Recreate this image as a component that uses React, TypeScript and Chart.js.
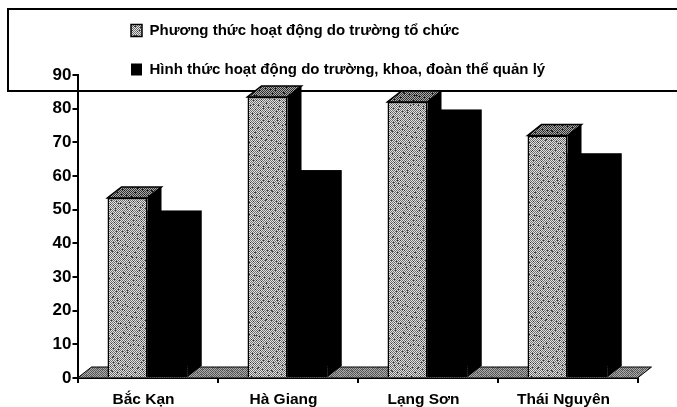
import React, { useEffect, useRef } from "react";
import { Chart, registerables } from "chart.js";

Chart.register(...registerables);

const categories = ["Bắc Kạn", "Hà Giang", "Lạng Sơn", "Thái Nguyên"];
const seriesNames = [
  "Phương thức hoạt động do trường tổ chức",
  "Hình thức hoạt động do trường, khoa, đoàn thể quản lý",
];
const truongToChuc = [53.5, 83.5, 82, 72];
const truongKhoaDoanThe = [46.5, 58.5, 76.5, 63.5];

const FONT = "'Liberation Sans', Arial, sans-serif";
const DX = 14;
const DY = 11;

function makePattern(dark: string, light: string, speck: string) {
  const c = document.createElement("canvas");
  c.width = 40;
  c.height = 60;
  const g = c.getContext("2d")!;
  for (let y = 0; y < 60; y++) {
    for (let x = 0; x < 40; x++) {
      g.fillStyle = (x + y) % 2 === 0 ? dark : light;
      if ((x * 7 + y * 11) % 23 === 0 || (x * 5 + y * 3) % 37 === 0) g.fillStyle = speck;
      g.fillRect(x, y, 1, 1);
    }
  }
  return g.createPattern(c, "repeat")!;
}

const depthPlugin = {
  id: "depth",
  beforeDatasetsDraw(chart: any) {
    const { ctx, chartArea: a } = chart;
    ctx.save();
    ctx.strokeStyle = "#000";
    ctx.lineWidth = 2;
    ctx.beginPath();
    ctx.moveTo(677, 9);
    ctx.lineTo(8, 9);
    ctx.lineTo(8, 91);
    ctx.lineTo(677, 91);
    ctx.stroke();
    ctx.fillStyle = makePattern("#555", "#aaa", "#777");
    ctx.strokeStyle = "#000";
    ctx.lineWidth = 1;
    ctx.beginPath();
    ctx.moveTo(a.left, a.bottom);
    ctx.lineTo(a.left + DX, a.bottom - DY);
    ctx.lineTo(a.right + DX, a.bottom - DY);
    ctx.lineTo(a.right, a.bottom);
    ctx.closePath();
    ctx.fill();
    ctx.stroke();
    ctx.restore();
  },
  beforeDatasetDraw(chart: any, args: any) {
    const { ctx } = chart;
    const meta = chart.getDatasetMeta(args.index);
    ctx.save();
    meta.data.forEach((bar: any) => {
      const l = bar.x - bar.width / 2;
      const r = bar.x + bar.width / 2;
      const t = bar.y;
      const b = bar.base;
      ctx.fillStyle = "#000";
      ctx.beginPath();
      ctx.moveTo(r, t);
      ctx.lineTo(r + DX, t - DY);
      ctx.lineTo(r + DX, b - DY);
      ctx.lineTo(r, b);
      ctx.closePath();
      ctx.fill();
      if (args.index === 1) {
        ctx.fillRect(l, t - DY, r - l + DX, b - t);
        return;
      }
      ctx.fillStyle = makePattern("#333", "#aaa", "#111");
      ctx.strokeStyle = "#000";
      ctx.lineWidth = 1.5;
      ctx.beginPath();
      ctx.moveTo(l, t);
      ctx.lineTo(l + DX, t - DY);
      ctx.lineTo(r + DX, t - DY);
      ctx.lineTo(r, t);
      ctx.closePath();
      ctx.fill();
      ctx.stroke();
    });
    ctx.restore();
  },
};

const legendPlugin = {
  id: "legendPlace",
  afterLayout(chart: any) {
    const lg = chart.legend;
    const w = lg.width;
    const h = lg.height;
    lg.left = 107;
    lg.top = -1;
    lg.right = lg.left + w;
    lg.bottom = lg.top + h;
    lg.adjustHitBoxes();
  },
};

export default function App() {
  const ref = useRef<HTMLCanvasElement>(null);
  useEffect(() => {
    const gray = makePattern("#6e6e6e", "#e2e2e2", "#333");
    const chart = new Chart(ref.current!, {
      type: "bar",
      data: {
        labels: categories,
        datasets: [
          { label: seriesNames[0], data: truongToChuc, backgroundColor: gray, borderColor: "#000", borderWidth: 1.5 },
          { label: seriesNames[1], data: truongKhoaDoanThe, backgroundColor: "#000", borderColor: "#000", borderWidth: 0 },
        ],
      },
      options: {
        animation: false,
        responsive: false,
        layout: { padding: { top: 75, right: 39.5, left: 0, bottom: 0 } },
        datasets: { bar: { categoryPercentage: 80 / 140, barPercentage: 1 } },
        plugins: {
          tooltip: { enabled: false },
          legend: {
            position: "chartArea",
            align: "start",
            labels: {
              boxWidth: 11,
              boxHeight: 12,
              padding: 24,
              color: "#000",
              font: { family: FONT, size: 15, weight: "bold" },
            },
          },
        },
        scales: {
          x: {
            afterFit: (s: any) => { s.height = 29; },
            grid: { drawOnChartArea: false, tickLength: 5, color: "#000", lineWidth: 2, offset: true },
            border: { color: "#000", width: 2 },
            ticks: { color: "#000", padding: 7, labelOffset: -4, maxRotation: 0, font: { family: FONT, size: 15.5, weight: "bold" } },
          },
          y: {
            min: 0,
            max: 90,
            afterFit: (s: any) => { s.width = 77.5; },
            grid: { drawOnChartArea: false, tickLength: 5, color: "#000", lineWidth: 2 },
            border: { color: "#000", width: 2 },
            ticks: { stepSize: 10, color: "#000", padding: 1, font: { family: FONT, size: 17, weight: "bold" } },
          },
        },
      } as any,
      plugins: [depthPlugin, legendPlugin],
    });
    return () => chart.destroy();
  }, []);
  return (
    <div style={{ position: "absolute", left: 0, top: 0, width: 677, height: 407, background: "#fff" }}>
      <canvas ref={ref} width={677} height={407} style={{ display: "block" }} />
    </div>
  );
}
